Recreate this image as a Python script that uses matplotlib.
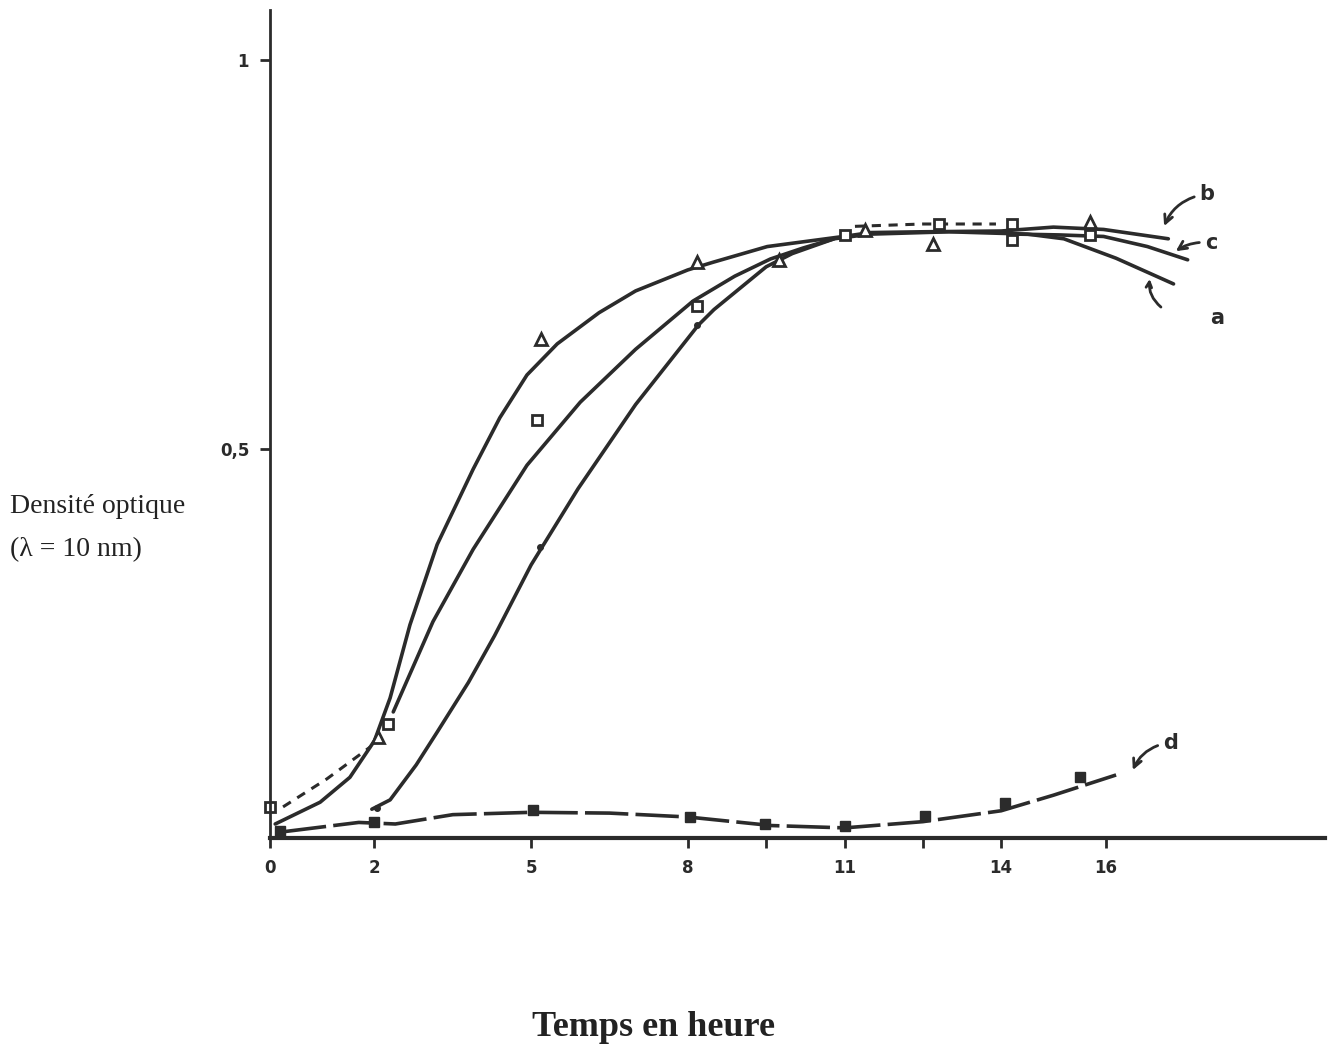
import numpy as np
import matplotlib.pyplot as plt

# Courbes de croissance : densité optique en fonction du temps (heures)

# courbe a (points) - tracé
a_t = [1.95, 2.3, 2.8, 3.2, 3.8, 4.3, 5.0, 5.9, 7.0, 8.2, 8.5, 9.5, 10.0, 10.8, 11.5, 13.0, 14.5, 15.2, 16.2, 17.3]
a_y = [0.037, 0.049, 0.094, 0.136, 0.20, 0.26, 0.351, 0.449, 0.557, 0.659, 0.679, 0.734, 0.751, 0.770, 0.776, 0.779, 0.776, 0.770, 0.745, 0.712]
a_mk_t = [2.05, 5.17, 8.18]
a_mk_y = [0.039, 0.374, 0.659]

# courbe b (triangles)
b_t = [0.1, 0.96, 1.53, 2.0, 2.3, 2.68, 3.2, 3.89, 4.4, 4.92, 5.5, 6.3, 7.0, 8.0, 8.49, 9.52, 10.98, 11.5, 12.5, 14.0, 15.0, 15.96, 17.2]
b_y = [0.018, 0.046, 0.078, 0.125, 0.18, 0.274, 0.377, 0.474, 0.54, 0.595, 0.635, 0.675, 0.703, 0.73, 0.74, 0.76, 0.773, 0.778, 0.779, 0.780, 0.785, 0.782, 0.770]
b_mk_t = [2.07, 5.19, 8.18, 9.75, 11.4, 12.7, 15.7]
b_mk_y = [0.13, 0.641, 0.740, 0.743, 0.781, 0.763, 0.792]

# courbe c (carrés vides) : début et plateau en tirets
c_t_deb = [0.25, 1.09, 1.92]
c_y_deb = [0.040, 0.076, 0.117]
c_t_mil = [2.36, 3.12, 3.89, 4.92, 5.94, 7.0, 8.1, 8.9, 9.58, 10.2, 10.8]
c_y_mil = [0.162, 0.278, 0.371, 0.479, 0.560, 0.628, 0.690, 0.722, 0.744, 0.758, 0.770]
c_t_pla = [11.2, 12.5, 13.9]
c_y_pla = [0.786, 0.789, 0.789]
c_t_fin = [14.3, 15.1, 15.96, 16.8, 17.57]
c_y_fin = [0.776, 0.775, 0.773, 0.760, 0.743]
c_mk_t = [0.0, 2.26, 5.11, 8.18, 11.0, 12.8, 14.2, 14.2, 15.7]
c_mk_y = [0.040, 0.147, 0.537, 0.683, 0.775, 0.789, 0.789, 0.769, 0.775]

# courbe d (carrés pleins)
d_t = [0.25, 1.7, 2.4, 3.5, 5.0, 6.5, 8.0, 9.6, 11.0, 12.5, 14.0, 15.0, 16.2]
d_y = [0.008, 0.020, 0.018, 0.030, 0.033, 0.032, 0.027, 0.016, 0.013, 0.021, 0.035, 0.055, 0.081]
d_mk_t = [0.2, 2.0, 5.04, 8.05, 9.48, 11.0, 12.55, 14.08, 15.5]
d_mk_y = [0.009, 0.021, 0.036, 0.027, 0.018, 0.015, 0.028, 0.045, 0.078]

x_ticks = [0, 2, 5, 8, 9.5, 11, 12.5, 14, 16]
x_labels = ['0', '2', '5', '8', '', '11', '', '14', '16']
y_ticks = [0.5, 1]
y_labels = ['0,5', '1']

ink = '#2b2b2b'
W, H = 1333, 1054
fig = plt.figure(figsize=(W / 100, H / 100), dpi=100)
ax = fig.add_axes([270 / W, 1 - 838 / H, (1325 - 270) / W, (838 - 10) / H])
ax.set_xlim(0, 20.2)
ax.set_ylim(0, 1.064)

lw = 2.6
solid = dict(color=ink, lw=lw, solid_capstyle='round', solid_joinstyle='round')
ax.plot(a_t, a_y, **solid)
ax.plot(b_t, b_y, **solid)
ax.plot(c_t_deb, c_y_deb, color=ink, lw=2.2, ls=(0, (3, 2.5)))
ax.plot(c_t_mil, c_y_mil, **solid)
ax.plot(c_t_pla, c_y_pla, color=ink, lw=2.2, ls=(0, (3, 2.5)))
ax.plot(c_t_fin, c_y_fin, **solid)
ax.plot(d_t, d_y, color=ink, lw=lw, ls=(0, (12, 2)), solid_capstyle='round')

ax.plot(a_mk_t, a_mk_y, ls='none', marker='o', ms=4, color=ink, clip_on=False)
ax.plot(b_mk_t, b_mk_y, ls='none', marker='^', ms=9, mfc='white', mec=ink, mew=2, clip_on=False)
ax.plot(c_mk_t, c_mk_y, ls='none', marker='s', ms=7, mfc='white', mec=ink, mew=2, clip_on=False)
ax.plot(d_mk_t, d_mk_y, ls='none', marker='s', ms=7, color=ink, clip_on=False)

# étiquettes des courbes
arrow = dict(arrowstyle='->', color=ink, lw=2, connectionstyle='arc3,rad=0.3')
lab = dict(fontsize=15, fontweight='bold', color=ink, family='DejaVu Sans')
ax.annotate('b', xy=(17.1, 0.783), xytext=(17.8, 0.82), arrowprops=arrow, **lab)
ax.annotate('c', xy=(17.3, 0.752), xytext=(17.9, 0.765), va='center',
            arrowprops=dict(arrow, connectionstyle='arc3,rad=0.2'), **lab)
ax.annotate('', xy=(16.85, 0.722), xytext=(17.1, 0.68),
            arrowprops=dict(arrow, connectionstyle='arc3,rad=-0.3'))
ax.text(18.0, 0.66, 'a', **lab)
ax.annotate('d', xy=(16.5, 0.084), xytext=(17.1, 0.115), arrowprops=arrow, **lab)

ax.spines[['top', 'right']].set_visible(False)
ax.spines['left'].set_linewidth(2)
ax.spines['bottom'].set_linewidth(3)
ax.spines[['left', 'bottom']].set_color(ink)
ax.set_xticks(x_ticks)
ax.set_xticklabels(x_labels)
ax.set_yticks(y_ticks)
ax.set_yticklabels(y_labels)
ax.tick_params(colors=ink, width=2, length=7, labelsize=12, pad=8)
for t in ax.get_xticklabels() + ax.get_yticklabels():
    t.set_fontweight('bold')

fig.text(10 / W, 1 - 507 / H, 'Densité optique', fontsize=20, family='Liberation Serif',
         color='#222222', va='center', ha='left')
fig.text(10 / W, 1 - 550 / H, '(λ = 10 nm)', fontsize=20, family='Liberation Serif',
         color='#222222', va='center', ha='left')
fig.text(653 / W, 1 - 1028 / H, 'Temps en heure', fontsize=26, family='Liberation Serif',
         fontweight='bold', color='#222222', va='center', ha='center')

fig.savefig('out.png', dpi=100, facecolor='white')
